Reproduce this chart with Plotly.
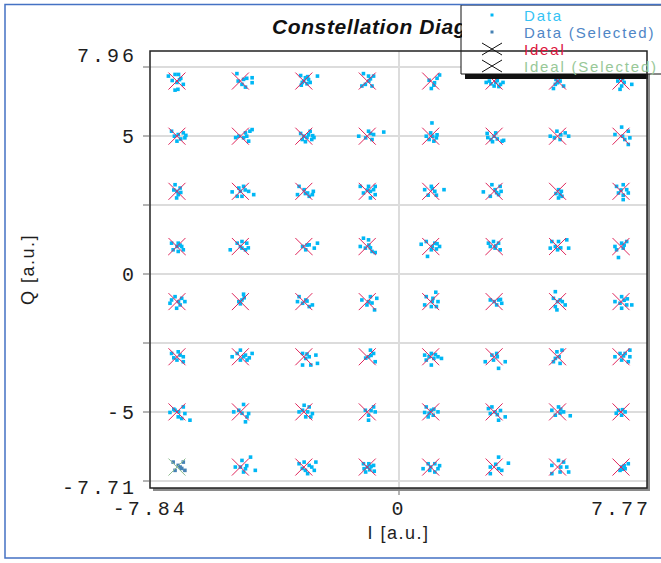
import plotly.graph_objects as go

# 64-QAM constellation: ideal symbol levels on each axis
LEVELS = [-7, -5, -3, -1, 1, 3, 5, 7]
ROW_LEVELS = [7, 5, 3, 1, -1, -3, -5, -7]
SELECTED_SYMBOL = (-7, -7)

X_RANGE = [-7.85, 7.82]
Y_RANGE = [-7.76, 8.09]
X_TICK_VALS = [-7.84, 0, 7.77]
Y_TICK_VALS = [-7.71, -5, 0, 5, 7.96]
I_GRID = [0]
Q_GRID = [-7.5, -5, -2.5, 0, 2.5, 5, 7.5]

SERIES_NAMES = ["Data", "Data (Selected)", "Ideal", "Ideal (Selected)"]

# Received symbols as (dI, dQ) deviations from their ideal point.
# One list per Q level (top to bottom), eight clusters per row (I = -7 .. 7).
NOISE_Q7 = [
    [(-0.27, 0.18), (-0.06, 0.24), (0.05, 0.24), (0.08, 0.05), (0.0, -0.05), (0.2, -0.12), (0.03, -0.3), (-0.06, -0.33), (-0.15, 0.02), (0.12, 0.1)],
    [(-0.11, 0.27), (0.37, 0.12), (0.37, -0.06), (0.1, 0.06), (0.05, -0.12), (0.16, -0.22), (-0.07, 0.0), (0.2, 0.1)],
    [(-0.1, 0.2), (0.05, 0.12), (0.15, 0.05), (0.1, -0.1), (-0.05, -0.05), (0.2, -0.05), (0.43, 0.18), (0.0, 0.0), (0.12, 0.16), (-0.08, -0.15)],
    [(-0.12, 0.27), (0.04, 0.18), (0.2, 0.18), (-0.06, -0.12), (0.15, -0.18), (-0.17, -0.18), (0.05, 0.0), (0.1, 0.08)],
    [(0.28, 0.22), (0.02, -0.27), (0.12, -0.06), (-0.05, 0.03), (0.2, 0.1), (0.1, -0.15)],
    [(-0.25, -0.05), (-0.1, -0.1), (0.05, -0.05), (0.2, -0.12), (0.28, -0.05), (0.0, -0.18), (0.1, 0.02), (-0.15, 0.0), (0.15, -0.2)],
    [(-0.07, -0.12), (-0.13, -0.27), (0.08, 0.0), (0.19, -0.18), (0.0, -0.06), (-0.05, 0.06)],
    [(0.02, -0.18), (0.34, -0.12), (-0.03, -0.3), (0.1, -0.05), (-0.1, 0.0), (0.05, 0.08)],
]
NOISE_Q5 = [
    [(-0.17, 0.18), (0.04, 0.06), (0.25, -0.06), (0.2, 0.12), (0.0, -0.18), (-0.08, 0.0), (0.12, -0.1), (0.28, 0.03)],
    [(0.37, 0.24), (0.16, 0.12), (-0.05, 0.0), (0.26, -0.18), (0.1, -0.06), (0.3, 0.18), (0.2, 0.0), (-0.15, -0.05)],
    [(-0.1, 0.1), (0.0, 0.0), (0.15, 0.05), (0.28, 0.02), (0.25, -0.12), (0.05, -0.2), (-0.05, -0.12), (0.2, 0.18), (0.1, -0.05), (0.32, -0.05)],
    [(-0.27, 0.0), (0.04, 0.18), (0.2, 0.06), (0.52, 0.15), (0.15, -0.12), (-0.05, -0.06), (0.1, 0.1)],
    [(0.04, 0.48), (0.0, 0.12), (0.18, -0.06), (0.1, -0.18), (-0.14, 0.0), (0.06, 0.0), (0.2, 0.05), (-0.05, -0.12)],
    [(-0.22, 0.1), (-0.2, -0.05), (-0.1, -0.12), (0.0, 0.0), (0.1, -0.1), (0.25, -0.18), (0.3, -0.15), (0.05, 0.12), (-0.05, -0.2)],
    [(-0.23, 0.0), (0.24, 0.12), (0.35, 0.0), (0.08, -0.12), (-0.02, 0.18), (0.1, 0.05), (-0.1, -0.06)],
    [(0.02, 0.33), (0.23, 0.18), (0.28, -0.06), (0.23, -0.3), (-0.19, 0.06), (0.05, 0.0), (0.12, -0.12)],
]
NOISE_Q3 = [
    [(-0.06, 0.24), (0.1, 0.12), (-0.01, -0.24), (0.04, -0.12), (0.0, 0.0), (-0.1, 0.05), (0.12, -0.04)],
    [(-0.26, -0.02), (-0.05, 0.12), (0.1, 0.18), (0.26, 0.0), (0.42, -0.12), (-0.1, -0.18), (0.05, -0.18), (0.15, 0.05), (0.0, 0.0)],
    [(-0.15, 0.18), (0.01, 0.06), (0.12, -0.06), (0.27, -0.12), (-0.2, -0.12), (0.17, -0.18), (0.3, 0.0), (0.05, -0.08)],
    [(-0.22, 0.18), (0.04, 0.18), (0.25, 0.18), (-0.12, -0.06), (0.1, 0.0), (0.25, -0.12), (0.1, -0.24), (0.0, 0.05), (0.2, 0.06)],
    [(-0.19, 0.06), (0.02, 0.18), (0.13, 0.0), (0.42, 0.06), (-0.08, -0.14), (0.18, -0.14), (0.05, 0.1)],
    [(-0.34, -0.02), (-0.07, 0.24), (0.19, 0.18), (0.03, 0.06), (0.14, -0.12), (-0.12, -0.18), (0.22, 0.0), (0.08, -0.05)],
    [(0.03, 0.06), (0.08, -0.12), (0.14, -0.18), (0.03, -0.24), (0.12, 0.0), (-0.05, -0.08)],
    [(-0.14, 0.18), (0.07, 0.24), (0.18, 0.06), (-0.08, -0.06), (0.07, -0.14), (0.07, -0.3), (0.23, -0.06), (0.0, 0.05)],
]
NOISE_Q1 = [
    [(-0.17, 0.12), (0.04, 0.12), (0.15, 0.0), (-0.12, -0.12), (0.04, -0.18), (0.2, -0.12), (0.0, 0.0), (0.1, 0.05)],
    [(-0.32, -0.12), (-0.1, 0.12), (0.05, 0.18), (0.2, 0.12), (0.05, -0.06), (0.16, -0.12), (0.0, 0.0), (0.25, -0.05)],
    [(-0.04, 0.0), (0.17, 0.06), (0.43, 0.12), (0.33, -0.06), (0.06, -0.12), (0.1, 0.05)],
    [(-0.12, 0.3), (0.04, 0.24), (-0.22, 0.0), (-0.06, -0.06), (0.15, -0.18), (0.25, -0.22), (0.05, 0.05), (0.1, -0.05)],
    [(-0.3, 0.08), (-0.14, 0.18), (0.13, 0.12), (0.28, 0.0), (0.02, -0.12), (-0.1, -0.36), (0.18, -0.09), (0.05, 0.0), (0.2, 0.1)],
    [(-0.18, 0.12), (-0.02, 0.18), (0.14, 0.12), (0.03, -0.06), (0.19, -0.12), (-0.12, 0.0), (0.05, 0.02)],
    [(-0.18, 0.18), (0.03, 0.18), (0.29, 0.24), (-0.07, 0.0), (-0.23, -0.06), (0.35, -0.06), (0.1, -0.05), (0.0, -0.12)],
    [(-0.19, 0.0), (0.02, 0.12), (0.18, 0.18), (-0.14, -0.12), (-0.08, -0.4), (0.07, -0.06), (0.1, 0.05)],
]
NOISE_QM1 = [
    [(-0.17, 0.06), (-0.06, 0.18), (0.15, 0.12), (0.25, 0.0), (-0.01, -0.24), (0.1, -0.12), (-0.22, -0.06), (0.05, 0.0)],
    [(0.1, 0.27), (0.05, 0.06), (-0.05, 0.0), (0.12, 0.14), (0.0, -0.08)],
    [(-0.15, 0.18), (-0.2, 0.0), (0.06, 0.06), (0.27, -0.12), (0.17, -0.18), (-0.04, -0.06), (0.1, 0.02)],
    [(-0.17, 0.06), (0.1, 0.18), (0.3, 0.12), (-0.01, -0.12), (0.23, -0.3), (0.05, 0.0), (0.15, -0.05)],
    [(0.16, 0.34), (-0.14, 0.18), (0.07, 0.12), (0.23, 0.0), (0.02, -0.18), (0.18, -0.18), (-0.19, -0.12), (0.05, 0.0)],
    [(-0.12, 0.06), (0.14, 0.06), (0.24, -0.06), (0.08, -0.12), (0.0, 0.0), (0.2, 0.08)],
    [(-0.07, 0.36), (-0.13, 0.12), (0.08, 0.06), (0.24, -0.12), (-0.07, -0.18), (-0.02, -0.3), (0.15, 0.0), (0.0, 0.0)],
    [(0.02, 0.18), (-0.19, 0.0), (-0.03, -0.06), (0.18, -0.12), (0.34, -0.12), (0.02, -0.24), (0.1, 0.05), (0.2, 0.1)],
]
NOISE_QM3 = [
    [(-0.17, 0.12), (0.04, 0.18), (0.2, 0.0), (0.0, -0.12), (0.2, -0.18), (-0.1, -0.04), (0.1, 0.06)],
    [(-0.26, 0.0), (-0.1, 0.12), (0.0, 0.24), (0.16, 0.06), (0.37, 0.12), (0.21, -0.12), (0.0, -0.12), (0.1, 0.0), (0.28, -0.04)],
    [(-0.04, 0.12), (0.17, 0.0), (0.38, 0.06), (0.43, -0.24), (-0.04, -0.3), (0.22, -0.3), (0.06, -0.06), (0.1, 0.1)],
    [(0.1, 0.24), (0.04, 0.0), (0.2, 0.12), (0.25, -0.18), (-0.05, -0.05), (0.12, 0.05)],
    [(-0.19, 0.06), (0.02, 0.12), (0.23, 0.0), (0.34, -0.06), (0.02, -0.3), (-0.14, -0.12), (0.1, -0.06), (0.15, 0.08), (-0.05, 0.0)],
    [(-0.28, -0.18), (-0.07, 0.06), (0.08, 0.12), (0.35, -0.18), (0.14, -0.42), (-0.02, -0.12), (0.1, 0.0)],
    [(-0.02, 0.18), (0.14, 0.24), (-0.07, -0.06), (0.08, -0.24), (-0.13, -0.18), (0.05, 0.0)],
    [(-0.19, 0.0), (-0.03, 0.12), (0.13, 0.12), (0.28, 0.24), (0.28, 0.0), (0.02, -0.12), (0.23, -0.18), (0.08, 0.03)],
]
NOISE_QM5 = [
    [(-0.22, -0.02), (-0.06, 0.06), (0.2, 0.18), (0.04, -0.18), (0.15, -0.24), (0.41, -0.3), (0.25, -0.06), (0.05, 0.0), (-0.1, 0.1)],
    [(0.1, 0.27), (-0.21, 0.0), (-0.05, 0.06), (0.21, -0.18), (0.16, -0.36), (0.26, -0.06), (0.05, -0.05)],
    [(0.01, 0.24), (0.17, 0.18), (-0.15, 0.0), (0.27, -0.06), (0.06, -0.18), (0.22, -0.18), (-0.04, 0.06), (0.12, 0.0)],
    [(-0.06, 0.06), (0.2, 0.18), (0.25, 0.0), (0.04, -0.12), (0.04, -0.3), (0.12, 0.05)],
    [(-0.14, 0.18), (0.02, 0.06), (0.23, 0.0), (-0.08, -0.18), (0.08, -0.12), (-0.19, -0.02), (0.1, 0.1), (-0.05, -0.05)],
    [(-0.18, 0.12), (-0.07, 0.18), (0.03, 0.0), (0.35, -0.18), (0.14, -0.3), (-0.12, -0.06), (0.1, -0.1), (0.2, 0.05)],
    [(-0.18, 0.06), (0.03, 0.18), (0.19, 0.0), (0.4, -0.14), (-0.07, -0.12), (0.08, -0.04), (0.1, 0.1)],
    [(-0.08, 0.06), (0.13, 0.0), (0.02, -0.12), (-0.15, -0.05), (0.05, 0.08)],
]
NOISE_QM7 = [
    [(-0.12, 0.18), (0.04, 0.06), (0.2, 0.18), (0.25, -0.12), (-0.06, -0.12), (0.1, 0.0), (0.15, -0.05)],
    [(-0.16, 0.0), (0.05, 0.24), (0.32, 0.36), (0.16, -0.06), (0.47, -0.12), (0.1, -0.18), (0.2, 0.05), (0.0, 0.0)],
    [(-0.15, 0.12), (0.01, 0.18), (0.17, 0.06), (0.38, 0.18), (0.33, -0.12), (0.12, -0.24), (-0.05, -0.05), (0.05, -0.12), (0.25, 0.0)],
    [(-0.12, 0.12), (0.05, 0.12), (0.2, 0.06), (-0.1, -0.06), (0.08, -0.1), (0.22, -0.15), (0.0, 0.0), (0.12, 0.02), (-0.05, -0.18)],
    [(-0.24, -0.06), (-0.08, 0.12), (0.13, 0.12), (0.23, -0.06), (-0.03, -0.12), (0.13, -0.18), (0.0, 0.0), (0.28, 0.05)],
    [(0.14, 0.36), (0.45, 0.14), (-0.12, 0.0), (0.14, -0.06), (-0.12, -0.24), (0.24, -0.12), (0.05, 0.1)],
    [(-0.18, 0.06), (0.03, 0.24), (0.19, 0.18), (0.29, 0.0), (0.35, -0.18), (0.08, -0.18), (-0.18, -0.24), (0.1, 0.0)],
    [(0.02, 0.0), (0.13, -0.06), (0.23, 0.12), (-0.03, -0.12), (0.1, 0.05), (0.05, -0.08)],
]
NOISE_ROWS = [NOISE_Q7, NOISE_Q5, NOISE_Q3, NOISE_Q1, NOISE_QM1, NOISE_QM3, NOISE_QM5, NOISE_QM7]

# colours
DATA_COLOR = "#00B7F5"
DATA_SEL_COLOR = "#4682B4"
IDEAL_COLOR = "#E0245A"
IDEAL_SEL_COLOR = "#8FBC8F"
LEGEND_TEXT_COLORS = ["#35C3F5", "#4F86C6", "#DC143C", "#98C898"]

# split samples into normal / selected groups
data_i, data_q, sel_i, sel_q = [], [], [], []
ideal_i, ideal_q, ideal_sel_i, ideal_sel_q = [], [], [], []
for q, row in zip(ROW_LEVELS, NOISE_ROWS):
    for i, cluster in zip(LEVELS, row):
        selected = (i, q) == SELECTED_SYMBOL
        for di, dq in cluster:
            (sel_i if selected else data_i).append(round(i + di, 3))
            (sel_q if selected else data_q).append(round(q + dq, 3))
        (ideal_sel_i if selected else ideal_i).append(i)
        (ideal_sel_q if selected else ideal_q).append(q)

fig = go.Figure()
fig.add_trace(go.Scatter(x=data_i, y=data_q, mode="markers", name=SERIES_NAMES[0],
                         marker=dict(symbol="square", size=3.6, color=DATA_COLOR, line=dict(width=0)),
                         showlegend=False))
fig.add_trace(go.Scatter(x=sel_i, y=sel_q, mode="markers", name=SERIES_NAMES[1],
                         marker=dict(symbol="square", size=3.6, color=DATA_SEL_COLOR, line=dict(width=0)),
                         showlegend=False))
fig.add_trace(go.Scatter(x=ideal_i, y=ideal_q, mode="markers", name=SERIES_NAMES[2],
                         marker=dict(symbol="x-thin", size=17, color=IDEAL_COLOR,
                                     line=dict(width=1, color=IDEAL_COLOR)),
                         showlegend=False))
fig.add_trace(go.Scatter(x=ideal_sel_i, y=ideal_sel_q, mode="markers", name=SERIES_NAMES[3],
                         marker=dict(symbol="x-thin", size=17, color=IDEAL_SEL_COLOR,
                                     line=dict(width=1, color=IDEAL_SEL_COLOR)),
                         showlegend=False))

# plot-area geometry in pixels
W, H = 661, 563
PL, PR, PT, PB = 150, 647, 51, 488


def px(x):
    return (x - PL) / (PR - PL)


def py(y):
    return (PB - y) / (PB - PT)


def spaced(text, gap):
    return f"<span style='letter-spacing:{gap}px'>{text}</span>"


def tick_text(v):
    return f"{v:g}"


tick_font = dict(family="Liberation Mono", size=20, color="#1E1E1E")
title_font = dict(family="Liberation Sans", size=18, color="#1E1E1E")
grid_color = "#DCDCDC"

# the right-end I label is set flush with the frame edge, the others sit on their ticks
x_axis_vals = X_TICK_VALS[:-1]
x_axis_text = [spaced(tick_text(v), 3) for v in x_axis_vals]
y_tick_text = [spaced(tick_text(v), 3) for v in Y_TICK_VALS]

fig.update_xaxes(
    range=X_RANGE, autorange=False, automargin=False,
    tickmode="array", tickvals=x_axis_vals, ticktext=x_axis_text,
    ticks="inside", ticklen=0, showgrid=False, zeroline=False, showline=False,
    tickfont=tick_font, ticklabelstandoff=6,
    minor=dict(tickmode="array", tickvals=I_GRID, showgrid=True, gridcolor=grid_color,
               gridwidth=1.5, ticks="outside", ticklen=6, tickcolor="#B4B4B4", tickwidth=1.5),
    title=dict(text=spaced("I [a.u.]", 1.5), font=title_font, standoff=6),
)
fig.update_yaxes(
    range=Y_RANGE, autorange=False, automargin=False,
    tickmode="array", tickvals=Y_TICK_VALS, ticktext=y_tick_text,
    ticks="inside", ticklen=0, showgrid=False, zeroline=False, showline=False,
    tickfont=tick_font, ticklabelstandoff=12, ticklabeloverflow="allow",
    minor=dict(tickmode="array", tickvals=Q_GRID, showgrid=True, gridcolor=grid_color,
               gridwidth=1.5, ticks="outside", ticklen=6, tickcolor="#B4B4B4", tickwidth=1.5),
    title=dict(text=spaced("Q [a.u.]", 1.5), font=title_font, standoff=22),
)

shapes = []
# frame shadow
shapes.append(dict(type="rect", xref="paper", yref="paper", layer="above",
                   x0=px(PR), x1=px(PR + 3), y0=py(PB + 3), y1=py(PT + 3),
                   fillcolor="#8A8A8A", line=dict(width=0)))
shapes.append(dict(type="rect", xref="paper", yref="paper", layer="above",
                   x0=px(PL + 3), x1=px(PR + 3), y0=py(PB + 3), y1=py(PB),
                   fillcolor="#8A8A8A", line=dict(width=0)))
# legend panel
LG_L, LG_T, LG_B = 461, 5, 74
shapes.append(dict(type="rect", xref="paper", yref="paper", layer="above",
                   x0=px(LG_L + 4), x1=px(PR + 1), y0=py(LG_B + 5), y1=py(LG_B),
                   fillcolor="#111111", line=dict(width=0)))
shapes.append(dict(type="rect", xref="paper", yref="paper", layer="above",
                   x0=px(LG_L), x1=px(W + 40), y0=py(LG_B), y1=py(LG_T),
                   fillcolor="white", line=dict(color="#111111", width=1)))
# plot frame
shapes.append(dict(type="rect", xref="paper", yref="paper", layer="above",
                   x0=0, x1=1, y0=0, y1=1, line=dict(color="#222222", width=1.5)))

ROW_Y = [15, 32, 49, 66]
SYM_X = 492
legend_markers = [("dot", DATA_COLOR), ("dot", DATA_SEL_COLOR), ("x", "#111111"), ("x", "#111111")]
for (kind, color), ry in zip(legend_markers, ROW_Y):
    if kind == "dot":
        shapes.append(dict(type="rect", xref="paper", yref="paper", layer="above",
                           x0=px(SYM_X - 1.5), x1=px(SYM_X + 1.5), y0=py(ry + 1.5), y1=py(ry - 1.5),
                           fillcolor=color, line=dict(width=0)))
    else:
        for y_a, y_b in ((ry - 6, ry + 6), (ry + 6, ry - 6)):
            shapes.append(dict(type="line", xref="paper", yref="paper", layer="above",
                               x0=px(SYM_X - 10), x1=px(SYM_X + 10), y0=py(y_a), y1=py(y_b),
                               line=dict(color=color, width=1)))
# outer panel border
shapes.append(dict(type="rect", xref="paper", yref="paper", layer="above",
                   x0=px(5), x1=px(W + 40), y0=py(558), y1=py(4.5),
                   line=dict(color="#4472C4", width=1.5)))

annotations = [
    dict(text=spaced("Constellation Diagram", 0.6), xref="paper", yref="paper",
         x=px(270), y=py(27), xanchor="left", yanchor="middle", showarrow=False,
         width=LG_L - 271, align="left",
         font=dict(family="Liberation Sans", size=21, weight="bold", style="italic", color="#111111")),
    # right-end I tick label, right-aligned at the frame edge
    dict(text=spaced(tick_text(X_TICK_VALS[-1]), 3), xref="x", yref="paper",
         x=X_TICK_VALS[-1], y=py(509), xanchor="right", yanchor="middle", xshift=8,
         showarrow=False, font=tick_font),
]
for name, color, ry in zip(SERIES_NAMES, LEGEND_TEXT_COLORS, ROW_Y):
    annotations.append(dict(text=spaced(name, 1.8), xref="paper", yref="paper",
                            x=px(522), y=py(ry), xanchor="left", yanchor="middle", showarrow=False,
                            font=dict(family="Liberation Sans", size=15, color=color)))

fig.update_layout(
    template="none",
    width=W, height=H,
    margin=dict(l=PL, r=W - PR, t=PT, b=H - PB),
    paper_bgcolor="white", plot_bgcolor="white",
    showlegend=False,
    shapes=shapes, annotations=annotations,
)

fig.write_html("out.html")
